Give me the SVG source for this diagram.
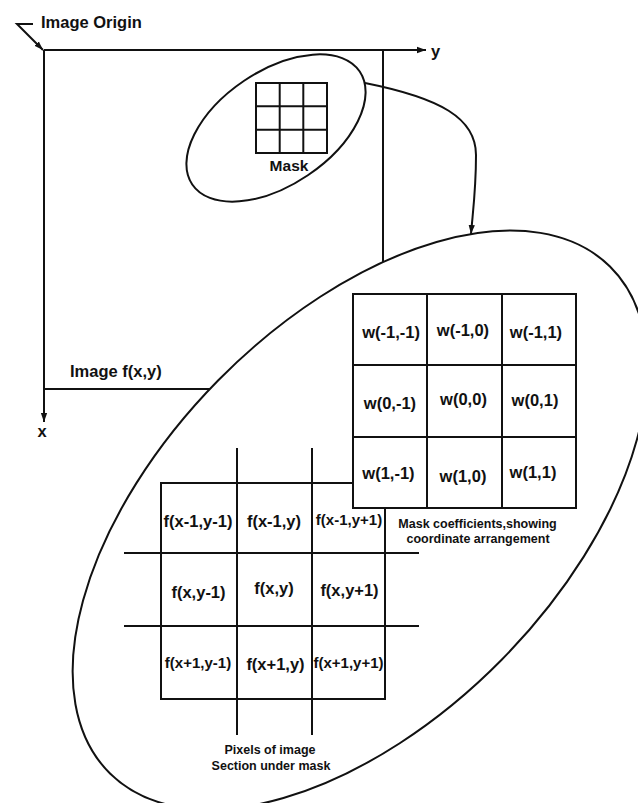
<svg xmlns="http://www.w3.org/2000/svg" width="638" height="803" viewBox="0 0 638 803">
<style>
.ln{stroke:#111;stroke-width:2;fill:none}
.bx{stroke:#111;stroke-width:2;fill:#fff}
.t{font-family:"Liberation Sans",Arial,sans-serif;font-weight:bold;fill:#111;text-anchor:middle}
.tl{font-family:"Liberation Sans",Arial,sans-serif;font-weight:bold;fill:#111}
</style>
<defs>
<marker id="ah" viewBox="0 0 10 10" refX="10" refY="5" markerWidth="9" markerHeight="9" markerUnits="userSpaceOnUse" orient="auto">
<path d="M0,1.5 L10,5 L0,8.5 Z" fill="#111"/>
</marker>
</defs>
<rect width="638" height="803" fill="#fff"/>

<g id="image">
<line class="ln" x1="44" y1="50" x2="426" y2="50" marker-end="url(#ah)"/>
<line class="ln" x1="44" y1="50" x2="44" y2="422" marker-end="url(#ah)"/>
<line class="ln" x1="383" y1="50" x2="383" y2="340"/>
<line class="ln" x1="44" y1="389" x2="240" y2="389"/>
<text class="tl" x="431" y="57" font-size="16.5">y</text>
<text class="t" x="42" y="437" font-size="16.5">x</text>
<text class="tl" x="70" y="377" font-size="16.5">Image f(x,y)</text>
</g>

<g id="origin-label">
<text class="tl" x="41" y="28" font-size="16.5">Image Origin</text>
<path class="ln" d="M33,24 L17,24 L43,50" stroke-width="1.8" marker-end="url(#ah)"/>
</g>

<g id="mask">
<ellipse class="ln" cx="276" cy="128" rx="101" ry="57" transform="rotate(-34 276 128)"/>
<rect class="ln" x="256" y="83" width="71" height="70"/>
<line class="ln" x1="279.7" y1="83" x2="279.7" y2="153"/>
<line class="ln" x1="303.3" y1="83" x2="303.3" y2="153"/>
<line class="ln" x1="256" y1="106.3" x2="327" y2="106.3"/>
<line class="ln" x1="256" y1="129.7" x2="327" y2="129.7"/>
<text class="t" x="289" y="171" font-size="15.5">Mask</text>
</g>

<g id="detail">
<ellipse class="bx" cx="360" cy="520" rx="356" ry="199" transform="rotate(-45.4 360 520)"/>
</g>

<g id="connectors">
<path class="ln" d="M365,83 C440,98 476,118 476,155 C476,190 473,210 471,234" marker-end="url(#ah)"/>
</g>

<g id="pixels">
<rect class="ln" x="161" y="483" width="224" height="216"/>
<line class="ln" x1="237" y1="448" x2="237" y2="735"/>
<line class="ln" x1="312" y1="448" x2="312" y2="735"/>
<line class="ln" x1="124" y1="553" x2="419" y2="553"/>
<line class="ln" x1="124" y1="626" x2="419" y2="626"/>
<text class="t" x="198" y="527" font-size="16.5">f(x-1,y-1)</text>
<text class="t" x="274" y="527" font-size="16.5">f(x-1,y)</text>
<text class="t" x="349" y="525" font-size="15">f(x-1,y+1)</text>
<text class="t" x="198.5" y="598" font-size="16.5">f(x,y-1)</text>
<text class="t" x="274" y="594" font-size="16.5">f(x,y)</text>
<text class="t" x="349.5" y="596" font-size="16.5">f(x,y+1)</text>
<text class="t" x="198" y="668" font-size="15">f(x+1,y-1)</text>
<text class="t" x="275.5" y="670" font-size="16.5">f(x+1,y)</text>
<text class="t" x="348.5" y="668" font-size="15">f(x+1,y+1)</text>
<text class="t" x="270" y="754" font-size="12.5">Pixels of image</text>
<text class="t" x="271" y="770" font-size="12.5">Section under mask</text>
</g>

<g id="coefficients">
<rect class="bx" x="353" y="294" width="223" height="214"/>
<line class="ln" x1="427" y1="294" x2="427" y2="508"/>
<line class="ln" x1="502" y1="294" x2="502" y2="508"/>
<line class="ln" x1="353" y1="365" x2="576" y2="365"/>
<line class="ln" x1="353" y1="437" x2="576" y2="437"/>
<text class="t" x="391" y="338" font-size="16.5">w(-1,-1)</text>
<text class="t" x="463" y="336" font-size="16.5">w(-1,0)</text>
<text class="t" x="536" y="338" font-size="16.5">w(-1,1)</text>
<text class="t" x="390" y="409" font-size="16.5">w(0,-1)</text>
<text class="t" x="463.5" y="405" font-size="16.5">w(0,0)</text>
<text class="t" x="535" y="406" font-size="16.5">w(0,1)</text>
<text class="t" x="388.5" y="479" font-size="16.5">w(1,-1)</text>
<text class="t" x="463" y="482" font-size="16.5">w(1,0)</text>
<text class="t" x="533" y="478" font-size="16.5">w(1,1)</text>
<text class="t" x="477.5" y="528" font-size="12.5">Mask coefficients,showing</text>
<text class="t" x="478" y="543" font-size="12.5">coordinate arrangement</text>
</g>
</svg>
